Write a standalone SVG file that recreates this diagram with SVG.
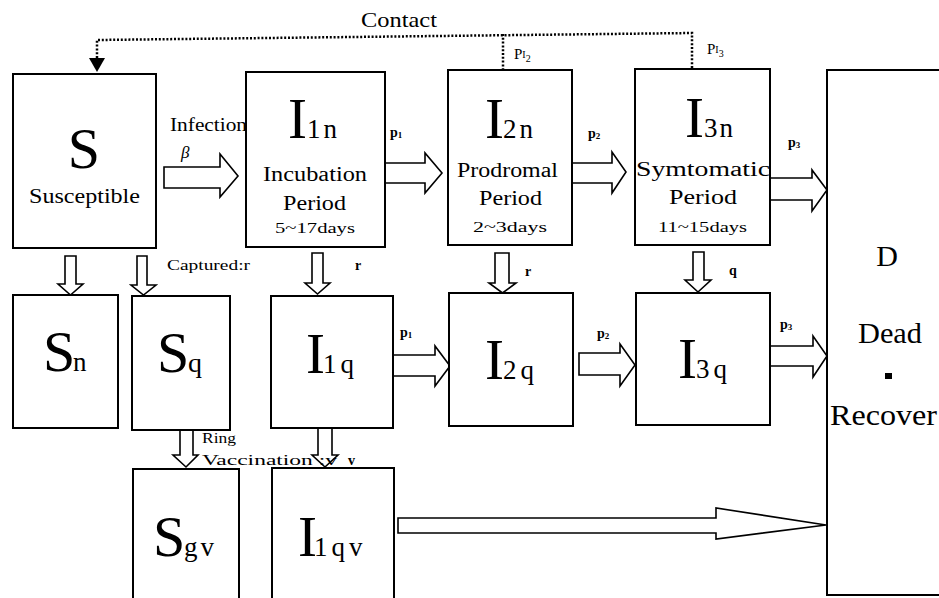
<svg xmlns="http://www.w3.org/2000/svg" width="939" height="598" viewBox="0 0 939 598">
<rect width="939" height="598" fill="#fff"/>

<g id="connectors">
  <g fill="none" stroke="#000" stroke-width="2.5" stroke-dasharray="2 1.8">
    <polyline points="97,58 97,40 692,33 692,68"/>
    <line x1="503" y1="34" x2="503" y2="69"/>
  </g>
  <polygon points="89,58 105,58 97,72" fill="#000"/>
  <g fill="#fff" stroke="#000" stroke-width="1.6">
    <polygon points="164,167 220,167 220,154 238,176 220,197 220,188 164,188"/>
    <polygon points="385,163 425,163 425,153 442,173 425,193 425,183 385,183"/>
    <polygon points="572,163 612,163 612,152 626,172 612,193 612,183 572,183"/>
    <polygon points="770,178 812,178 812,170 827,190 812,211 812,200 770,200"/>
    <polygon points="393,355 435,355 435,346 450,366 435,386 435,376 393,376"/>
    <polygon points="579,353 620,353 620,344 635,365 620,386 620,375 579,375"/>
    <polygon points="770,346 813,346 813,336 827,356 813,377 813,366 770,366"/>
    <polygon points="398,518 716,518 716,508 826,525 716,539 716,533 398,533"/>
    <polygon points="65,256 76,256 76,284 83,284 70.5,295 58,284 65,284"/>
    <polygon points="137,256 147,256 147,285 156,285 143.5,295 131,285 137,285"/>
    <polygon points="312,253 323,253 323,283 330,283 317.5,294 305,283 312,283"/>
    <polygon points="495,253 509,253 509,283 516,283 502.5,293 489,283 495,283"/>
    <polygon points="693,252 704,252 704,280 711,280 698,292 685,280 693,280"/>
    <polygon points="180,430 193,430 193,455 198,455 186,467 173,455 180,455"/>
    <polygon points="318,428 332,428 332,455 338,455 325,467 312,455 318,455"/>
  </g>

  <text font-family="Liberation Serif, serif" x="361" y="27" font-size="21" textLength="76" lengthAdjust="spacingAndGlyphs">Contact</text>
  <text font-family="Liberation Serif, serif" x="514" y="59" font-size="15">P<tspan font-size="10" dy="-1">I</tspan><tspan font-size="10" dy="4">2</tspan></text>
  <text font-family="Liberation Serif, serif" x="707" y="54" font-size="15">P<tspan font-size="10" dy="-1">I</tspan><tspan font-size="10" dy="4">3</tspan></text>
  <text font-family="Liberation Serif, serif" x="170" y="131" font-size="19" textLength="77" lengthAdjust="spacingAndGlyphs">Infection</text>
  <text font-family="Liberation Serif, serif" x="181" y="158" font-size="17" font-style="italic">β</text>
  <text font-family="Liberation Serif, serif" font-size="14" font-weight="bold" x="390" y="137">p<tspan font-size="9" dy="1">1</tspan></text>
  <text font-family="Liberation Serif, serif" font-size="14" font-weight="bold" x="588" y="138">p<tspan font-size="9" dy="1">2</tspan></text>
  <text font-family="Liberation Serif, serif" font-size="14" font-weight="bold" x="788" y="147">p<tspan font-size="9" dy="1">3</tspan></text>
  <text font-family="Liberation Serif, serif" font-size="14" font-weight="bold" x="400" y="337">p<tspan font-size="9" dy="1">1</tspan></text>
  <text font-family="Liberation Serif, serif" font-size="14" font-weight="bold" x="597" y="338">p<tspan font-size="9" dy="1">2</tspan></text>
  <text font-family="Liberation Serif, serif" font-size="14" font-weight="bold" x="780" y="329">p<tspan font-size="9" dy="1">3</tspan></text>
  <text font-family="Liberation Serif, serif" font-size="15" x="167" y="270" textLength="83" lengthAdjust="spacingAndGlyphs">Captured:r</text>
  <text font-family="Liberation Serif, serif" font-size="14" font-weight="bold" x="355" y="270">r</text>
  <text font-family="Liberation Serif, serif" font-size="14" font-weight="bold" x="525" y="276">r</text>
  <text font-family="Liberation Serif, serif" font-size="14" font-weight="bold" x="729" y="275">q</text>
  <text font-family="Liberation Serif, serif" font-size="15" x="202" y="443" textLength="34" lengthAdjust="spacingAndGlyphs">Ring</text>
  <text font-family="Liberation Serif, serif" font-size="15" x="202" y="465" textLength="135" lengthAdjust="spacingAndGlyphs">Vaccination :v</text>
  <text font-family="Liberation Serif, serif" font-size="14" font-weight="bold" x="348" y="465">v</text>
</g>

<g id="S">
  <rect fill="#fff" stroke="#000" stroke-width="2" x="13" y="74" width="143" height="174"/>
  <text font-family="Liberation Serif, serif" font-size="58" text-anchor="middle" x="84" y="168">S</text>
  <text font-family="Liberation Serif, serif" font-size="20" x="29" y="203" textLength="111" lengthAdjust="spacingAndGlyphs">Susceptible</text>
</g>

<g id="I1n">
  <rect fill="#fff" stroke="#000" stroke-width="2" x="246" y="72" width="139" height="175"/>
  <text font-family="Liberation Serif, serif" font-size="57" x="288" y="138">I<tspan x="307" font-size="27" letter-spacing="3">1n</tspan></text>
  <text font-family="Liberation Serif, serif" font-size="20" x="263" y="181" textLength="104" lengthAdjust="spacingAndGlyphs">Incubation</text>
  <text font-family="Liberation Serif, serif" font-size="20" x="283" y="210" textLength="63" lengthAdjust="spacingAndGlyphs">Period</text>
  <text font-family="Liberation Serif, serif" font-size="15" x="275" y="233" textLength="80" lengthAdjust="spacingAndGlyphs">5~17days</text>
</g>

<g id="I2n">
  <rect fill="#fff" stroke="#000" stroke-width="2" x="448" y="70" width="124" height="175"/>
  <text font-family="Liberation Serif, serif" font-size="57" x="485" y="138">I<tspan x="503" font-size="27" letter-spacing="3">2n</tspan></text>
  <text font-family="Liberation Serif, serif" font-size="20" x="457" y="177" textLength="101" lengthAdjust="spacingAndGlyphs">Prodromal</text>
  <text font-family="Liberation Serif, serif" font-size="20" x="479" y="205" textLength="63" lengthAdjust="spacingAndGlyphs">Period</text>
  <text font-family="Liberation Serif, serif" font-size="15" x="473" y="232" textLength="74" lengthAdjust="spacingAndGlyphs">2~3days</text>
</g>

<g id="I3n">
  <rect fill="#fff" stroke="#000" stroke-width="2" x="635" y="69" width="135" height="176"/>
  <text font-family="Liberation Serif, serif" font-size="57" x="685" y="137">I<tspan x="704" font-size="27" letter-spacing="2">3n</tspan></text>
  <text font-family="Liberation Serif, serif" font-size="20" x="636" y="176" textLength="134" lengthAdjust="spacingAndGlyphs">Symtomatic</text>
  <text font-family="Liberation Serif, serif" font-size="20" x="669" y="204" textLength="68" lengthAdjust="spacingAndGlyphs">Period</text>
  <text font-family="Liberation Serif, serif" font-size="15" x="658" y="232" textLength="89" lengthAdjust="spacingAndGlyphs">11~15days</text>
</g>

<g id="D">
  <path fill="#fff" stroke="#000" stroke-width="2" d="M939,70 H827 V595 H939"/>
  <text font-family="Liberation Serif, serif" x="887" y="266" font-size="30" text-anchor="middle">D</text>
  <text font-family="Liberation Serif, serif" x="858" y="343" font-size="30" textLength="64" lengthAdjust="spacingAndGlyphs">Dead</text>
  <rect x="885" y="373" width="7" height="6" fill="#000"/>
  <text font-family="Liberation Serif, serif" x="830" y="425" font-size="30" textLength="107" lengthAdjust="spacingAndGlyphs">Recover</text>
</g>

<g id="Sn">
  <rect fill="#fff" stroke="#000" stroke-width="2" x="13" y="295" width="105" height="133"/>
  <text font-family="Liberation Serif, serif" font-size="58" x="43" y="371">S<tspan x="73" font-size="27">n</tspan></text>
</g>

<g id="Sq">
  <rect fill="#fff" stroke="#000" stroke-width="2" x="132" y="296" width="98" height="134"/>
  <text font-family="Liberation Serif, serif" font-size="58" x="157" y="372">S<tspan x="188" font-size="28">q</tspan></text>
</g>

<g id="I1q">
  <rect fill="#fff" stroke="#000" stroke-width="2" x="271" y="296" width="122" height="132"/>
  <text font-family="Liberation Serif, serif" font-size="57" x="306" y="373">I<tspan x="323" font-size="27" letter-spacing="4">1q</tspan></text>
</g>

<g id="I2q">
  <rect fill="#fff" stroke="#000" stroke-width="2" x="449" y="293" width="124" height="133"/>
  <text font-family="Liberation Serif, serif" font-size="57" x="485" y="379">I<tspan x="503" font-size="27" letter-spacing="4">2q</tspan></text>
</g>

<g id="I3q">
  <rect fill="#fff" stroke="#000" stroke-width="2" x="636" y="293" width="134" height="132"/>
  <text font-family="Liberation Serif, serif" font-size="57" x="678" y="378">I<tspan x="696" font-size="27" letter-spacing="4">3q</tspan></text>
</g>

<g id="Sgv">
  <path fill="#fff" stroke="#000" stroke-width="2" d="M133,598 V469 H239 V598"/>
  <text font-family="Liberation Serif, serif" font-size="58" x="153" y="556">S<tspan x="184" font-size="27" letter-spacing="3">gv</tspan></text>
</g>

<g id="I1qv">
  <path fill="#fff" stroke="#000" stroke-width="2" d="M272,598 V468 H394 V598"/>
  <text font-family="Liberation Serif, serif" font-size="57" x="298" y="556">I<tspan x="314" font-size="27" letter-spacing="4">1qv</tspan></text>
</g>
</svg>
